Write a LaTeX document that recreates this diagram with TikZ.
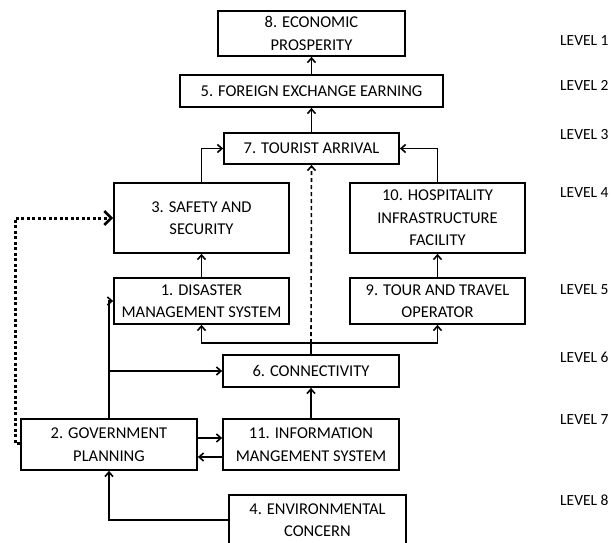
\documentclass[tikz,border=0pt]{standalone}
\usepackage{fontspec}
\setmainfont{Carlito}
\usetikzlibrary{arrows.meta}
\tikzset{
  blk/.style={draw, line width=1.8pt, minimum width=175pt, align=center,
    inner sep=2pt, font=\fontsize{16.5}{22.5}\selectfont},
  lvl/.style={anchor=west, inner sep=0pt, font=\fontsize{15.5}{18}\selectfont},
  conn/.style={line width=1.6pt, -{Straight Barb[length=4.5pt,width=8pt]}},
  fb/.style={line width=3pt, dash pattern=on 3pt off 2.5pt,
    -{Straight Barb[length=7pt,width=14pt,line width=2.6pt]}}
}
\begin{document}
\begin{tikzpicture}[x=1pt,y=-1pt]
  \useasboundingbox (0,0) rectangle (611,543);
  % blocks
  \node[blk, minimum width=187pt, minimum height=45pt] (n8) at (311.5,33.5) {8. ECONOMIC\\PROSPERITY};
  \node[blk, minimum width=263pt, minimum height=32pt] (n5) at (311.5,91) {5. FOREIGN EXCHANGE EARNING};
  \node[blk, minimum height=31pt] (n7) at (311.5,148.5) {7. TOURIST ARRIVAL};
  \node[blk, minimum height=70pt] (n3) at (201.5,218) {3. SAFETY AND\\SECURITY};
  \node[blk, minimum height=70pt] (n10) at (437.5,218) {10. HOSPITALITY\\INFRASTRUCTURE\\FACILITY};
  \node[blk, minimum height=46pt] (n1) at (201.5,301) {1. DISASTER\\MANAGEMENT SYSTEM};
  \node[blk, minimum height=46pt] (n9) at (437.5,301) {9. TOUR AND TRAVEL\\OPERATOR};
  \node[blk, minimum width=176pt, minimum height=32pt] (n6) at (311,371) {6. CONNECTIVITY};
  \node[blk, minimum width=176pt, minimum height=51pt] (n2) at (109,444.5) {2. GOVERNMENT\\PLANNING};
  \node[blk, minimum width=176pt, minimum height=51pt] (n11) at (311,444.5) {11. INFORMATION\\MANGEMENT SYSTEM};
  \node[blk, minimum width=177pt, minimum height=50pt] (n4) at (317.5,520) {4. ENVIRONMENTAL\\CONCERN};
  % levels
  \foreach \k/\y in {1/41,2/85,3/135,4/193,5/290,6/357,7/420,8/500}
    \node[lvl] (l\k) at (560,\y) {LEVEL \k};
  % connectors
  \coordinate (j) at (n6.north |- 0,343);
  \draw[conn] (n5) -- (n8);
  \draw[conn] (n7) -- (n5);
  \draw[conn] (n3.north) |- (n7.west);
  \draw[conn] (n10.north) |- (n7.east);
  \draw[conn] (n1) -- (n3);
  \draw[conn] (n9) -- (n10);
  \draw[line width=1.6pt] (n6.north) -- (j);
  \draw[conn] (j) -| (n1.south);
  \draw[conn] (j) -| (n9.south);
  \draw[conn, dash pattern=on 4pt off 3pt] (j) -- (n7.south);
  \draw[conn] (n2.north) |- (n1.west);
  \draw[conn] (n2.north |- n6.west) -- (n6.west);
  \draw[conn] (n2.east |- 0,438) -- (n11.west |- 0,438);
  \draw[conn] (n11.west |- 0,457) -- (n2.east |- 0,457);
  \draw[conn] (n11) -- (n6);
  \draw[conn] (n4.west) -| (n2.south);
  \draw[fb] (n2.west |- 0,443) -- (15,443) |- (n3.west);
\end{tikzpicture}
\end{document}
